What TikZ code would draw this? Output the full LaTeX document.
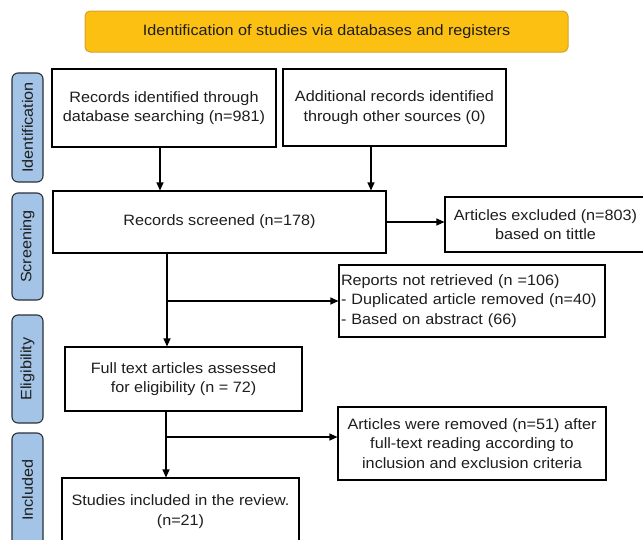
\documentclass[tikz,border=0pt]{standalone}
\usepackage{fontspec}
\setmainfont[FakeStretch=1.08]{Liberation Sans}
\usetikzlibrary{arrows.meta}
\definecolor{titleyel}{HTML}{FBC012}
\definecolor{titleedge}{HTML}{D2A32A}
\definecolor{tabblue}{HTML}{A3C4E7}
\definecolor{tabedge}{HTML}{2B3036}
\definecolor{txtgray}{HTML}{1E1E1E}

\begin{document}
\begin{tikzpicture}[x=1pt,y=-1pt,
  box/.style={draw=black,line width=1.1pt,fill=white,inner sep=2pt,align=center,text=txtgray,font=\fontsize{15}{19.5}\selectfont},
  stage/.style={draw=tabedge,fill=tabblue,line width=1.1pt,rounded corners=6pt,rotate=90,minimum height=31pt,inner sep=0pt,text=txtgray,font=\fontsize{15}{18}\selectfont},
  arr/.style={line width=1.1pt,-{Triangle[length=8pt,width=7pt]}}]
\useasboundingbox (0,0) rectangle (643,539);
  \node (head) at (326.5,31.5)[draw=titleedge,fill=titleyel,line width=1pt,rounded corners=5pt,minimum width=483pt,minimum height=41pt,text=txtgray,font=\fontsize{15}{18}\selectfont]{Identification of studies via databases and registers};
         \node (tabId) at (27.5,127.5)[stage,minimum width=109pt]{Identification};
         \node (tabSc) at (27.5,246.5)[stage,minimum width=107pt]{Screening};
         \node (tabEl) at (27.5,369)[stage,minimum width=108pt]{Eligibility};
         \node (tabIn) at (27.5,490)[stage,minimum width=114pt]{Included};
  \node (recs) at (164,108)[box,minimum width=224pt,minimum height=78pt]{Records identified through\\database searching (n=981)};
  \node (other) at (394.5,107.5)[box,minimum width=223pt,minimum height=77pt]{Additional records identified\\through other sources (0)};
  \node (screen) at (219.5,222)[box,minimum width=333pt,minimum height=62pt]{Records screened (n=178)};
  \node (excl) at (545.5,224.5)[box,minimum width=201pt,minimum height=55pt]{Articles excluded (n=803)\\based on tittle};
  \node (notret) at (472,301)[box,align=left,text width=262pt,minimum height=72pt]{Reports not retrieved (n =106)\\- Duplicated article removed (n=40)\\- Based on abstract (66)};
  \node (full) at (183.5,379)[box,minimum width=237pt,minimum height=64pt]{Full text articles assessed\\for eligibility (n = 72)};
  \node (removed) at (472,443.5)[box,minimum width=268pt,minimum height=73pt]{Articles were removed (n=51) after\\full-text reading according to\\inclusion and exclusion criteria};
  \node (incl) at (180.5,511.5)[box,minimum width=237pt,minimum height=67pt]{Studies included in the review.\\(n=21)};
         \coordinate (colA) at (160,0);
         \coordinate (colB) at (371,0);
         \coordinate (colM) at (167,0);
         \coordinate (colN) at (166,0);
         \coordinate (rowR) at (0,301);
         \coordinate (rowG) at (0,437);
  \draw [arr] (recs.south -| colA) -- (screen.north -| colA);
  \draw [arr] (other.south -| colB) -- (screen.north -| colB);
  \draw [arr] (screen.east) -- (screen.east -| excl.west);
  \draw [arr] (screen.south -| colM) -- (full.north -| colM);
  \draw [arr] (colM |- rowR) -- (notret.west |- rowR);
  \draw [arr] (full.south -| colN) -- (incl.north -| colN);
  \draw [arr] (colN |- rowG) -- (removed.west |- rowG);
\end{tikzpicture}
\end{document}
